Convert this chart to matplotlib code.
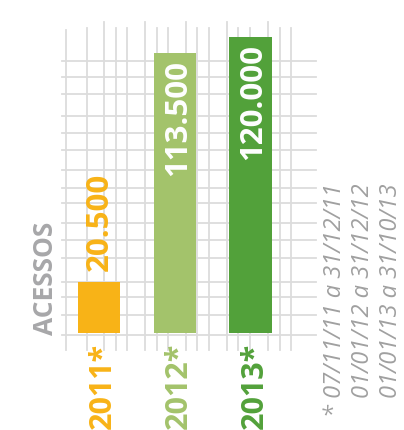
import matplotlib
matplotlib.use("Agg")
import matplotlib.pyplot as plt

# dados
anos = ["2011", "2012", "2013"]
acessos = [20500, 113500, 120000]
rotulos = ["20.500", "113.500", "120.000"]
cores = ["#F8B317", "#A3C36B", "#52A13A"]
periodos = ["* 07/11/11 a 31/12/11", "01/01/12 a 31/12/12", "01/01/13 a 31/10/13"]

plt.rcParams['font.family'] = ['Open Sans', 'DejaVu Sans']

W, H = 404, 430
fig = plt.figure(figsize=(W / 100, H / 100), dpi=100)

# fundo em pixels para a grade "desenhada à mão"
bg = fig.add_axes([0, 0, 1, 1])
bg.set_xlim(0, W)
bg.set_ylim(H, 0)
bg.axis('off')

grade_v = [66, 87, 104, 116, 127, 145, 157, 168, 186, 197, 209, 227, 238, 250, 268, 280, 291]
topo_v = [30, 28, 22, 28, 28, 22, 28, 28, 22, 28, 28, 22, 28, 28, 22, 28, 28]
grade_h = [61, 77, 94, 116, 133, 150, 170, 188, 203, 223, 240, 258, 282, 297, 315, 335]
for x, t in zip(grade_v, topo_v):
    bg.plot([x, x], [t, 350], color='#dcdcdc', lw=1.3, zorder=1)
for y in grade_h:
    bg.plot([62, 316], [y, y], color='#dcdcdc', lw=1.3, zorder=1)

# eixo dos dados
esq, dir_, topo, base = 62, 316, 30, 345
ax = fig.add_axes([esq / W, (H - base) / H, (dir_ - esq) / W, (base - topo) / H])
ax.patch.set_alpha(0)
px = 120000 / (333 - 37)
ax.set_ylim(-(base - 333) * px, (333 - topo) * px)
passo = 75.75
ax.set_xlim((esq - 99) / passo, (dir_ - 99) / passo)
ax.axis('off')

xs = list(range(len(anos)))
ax.bar(xs, acessos, width=0.56, color=cores, zorder=3)

fs_val = 22.5
# primeiro rótulo fora da barra, os outros dentro
ax.annotate(rotulos[0], xy=(xs[0], acessos[0]), xytext=(9 * 0.72, 11 * 0.72),
            textcoords='offset points', rotation=90, rotation_mode='anchor',
            ha='left', va='baseline', fontsize=fs_val, fontweight='bold',
            color=cores[0], zorder=4)
for i in (1, 2):
    ax.annotate(rotulos[i], xy=(xs[i], acessos[i]), xytext=(11 * 0.72, -7 * 0.72),
                textcoords='offset points', rotation=90, rotation_mode='anchor',
                ha='right', va='baseline', fontsize=fs_val, fontweight='bold',
                color='white', zorder=4)

# anos abaixo das barras
for i, ano in enumerate(anos):
    ax.annotate(ano + "*", xy=(xs[i], 0), xytext=(12 * 0.72, -10 * 0.72),
                textcoords='offset points', rotation=90, rotation_mode='anchor',
                ha='right', va='baseline', fontsize=22, fontweight='bold',
                color=cores[i], annotation_clip=False)

# título do eixo
bg.text(53, 335, "ACESSOS", rotation=90, rotation_mode='anchor', ha='left',
        va='baseline', fontsize=19, fontweight='bold', color='#A7A7A9')

# nota de rodapé
for xb, txt in zip([341, 369, 397], periodos):
    bg.text(xb, 183, txt, rotation=90, rotation_mode='anchor', ha='right',
            va='baseline', fontsize=17, fontstyle='italic', color='#A0A0A0')

fig.savefig("out.png", dpi=100)
